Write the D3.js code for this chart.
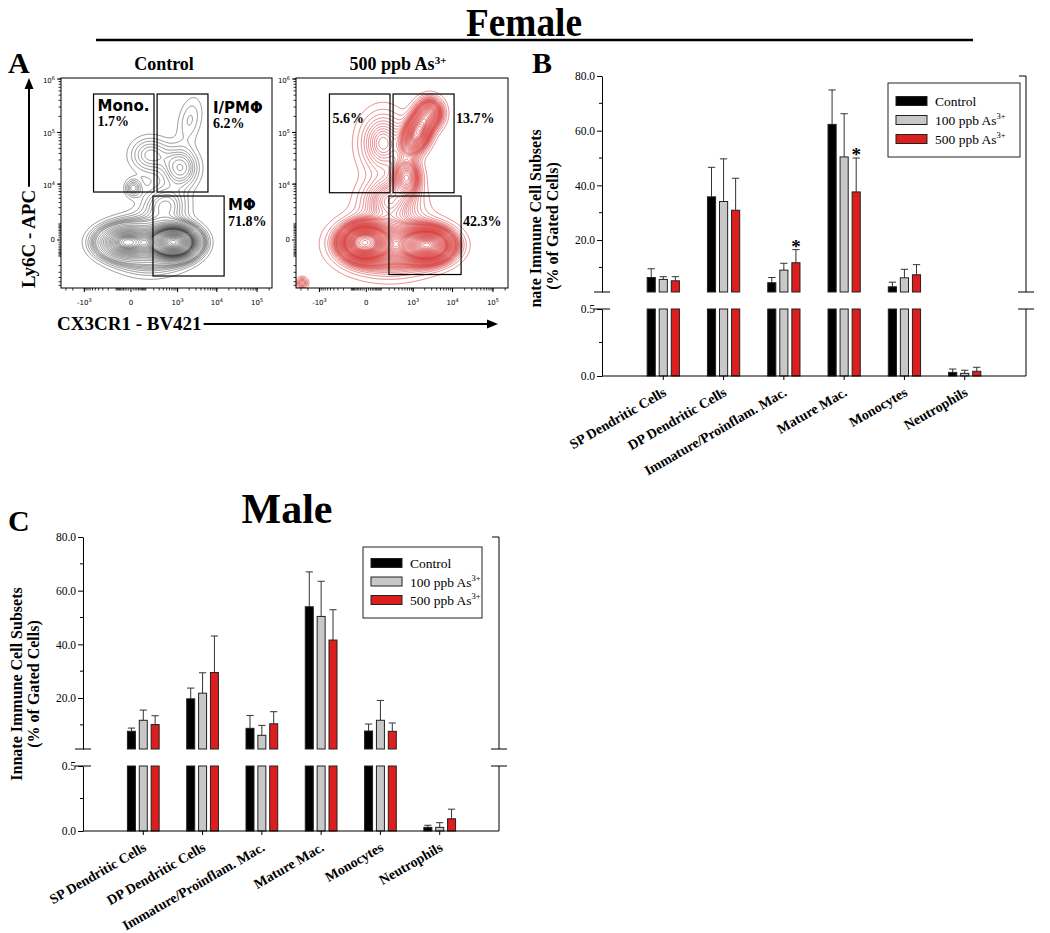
<!DOCTYPE html>
<html><head><meta charset="utf-8">
<script src="https://cdn.jsdelivr.net/npm/d3@7"></script>
<style>body{margin:0;background:#fff}svg{display:block}</style>
</head><body>
<svg id="fig" width="1050" height="933"></svg>
<script>
// ================= DATA =================
const categories = ["SP Dendritic Cells","DP Dendritic Cells","Immature/Proinflam. Mac.","Mature Mac.","Monocytes","Neutrophils"];
const groupNames = ["Control","100 ppb As","500 ppb As"];
const groupSup   = ["","3+","3+"];
// Female (panel B): mean and upper error (SEM) per category
const femaleControl    = [6.3, 35.8, 4.4, 62.3, 2.9, 0.027];
const femaleControlErr = [3.2, 10.8, 1.9, 12.6, 1.7, 0.025];
const female100        = [5.6, 34.1, 9.0, 50.4, 6.2, 0.020];
const female100Err     = [1.0, 15.6, 2.5, 15.8, 3.1, 0.023];
const female500        = [5.1, 30.9, 11.7, 37.6, 7.3, 0.035];
const female500Err     = [1.5, 11.7, 4.8, 12.4, 3.7, 0.030];
const femaleStars      = [[2,2],[3,2]]; // [category index, group index]
// Male (panel C)
const maleControl    = [7.6, 19.7, 8.7, 54.0, 7.7, 0.028];
const maleControlErr = [1.2, 4.0, 4.8, 13.0, 2.6, 0.016];
const male100        = [11.7, 21.8, 6.1, 50.4, 11.7, 0.028];
const male100Err     = [3.8, 7.6, 3.7, 13.1, 7.4, 0.036];
const male500        = [10.1, 29.5, 10.4, 41.6, 7.6, 0.094];
const male500Err     = [3.3, 13.6, 4.5, 11.3, 3.1, 0.074];
const upperTicks = [20, 40, 60, 80];
const upperMinor = [10, 30, 50, 70];
const lowerTicks = [0, 0.5];
const lowerMinor = [0.25];

// Panel A flow plots: populations [CX3CR1, Ly6C, spreadX(decade units), spreadY, event fraction, correlation]
const controlPops = [
  [800, -100, 0.70, 0.36, 0.45, 0],
  [-30, -100, 0.90, 0.40, 0.20, 0],
  [150, -200, 1.30, 0.65, 0.20, 0],
  [1200, 21000, 0.65, 0.55, 0.040, 0],
  [150, 37400, 0.75, 0.50, 0.030, 0],
  [2090, 171000, 0.50, 0.70, 0.014, 0.3],
  [10, 8300, 0.30, 0.25, 0.006, 0],
  [455, 3500, 0.80, 0.50, 0.040, 0]
];
const as500Pops = [
  [-10, -120, 0.70, 0.40, 0.22, 0],
  [2400, -250, 0.80, 0.40, 0.20, 0],
  [200, -200, 1.60, 0.70, 0.22, 0],
  [1300, 100000, 0.50, 0.55, 0.080, 0.4],
  [2700, 232000, 0.45, 0.38, 0.030, 0],
  [680, 13900, 0.45, 0.45, 0.035, 0],
  [120, 63000, 0.85, 0.85, 0.060, 0],
  [213, 4560, 1.00, 0.60, 0.060, 0],
  [-2800, -5335, 0.20, 0.15, 0.002, 0]
];
// gates [x1, x2, y1, y2] in data units
const controlGates = [[-561, 204, 6840, 525000], [258, 6000, 6840, 525000], [188, 15200, -3690, 5600]];
const as500Gates   = [[-534, 213, 6600, 525000], [268, 10900, 6600, 525000], [196, 16300, -3400, 5600]];
const controlGateLabels = [["Mono.","1.7%"],["I/PMΦ","6.2%"],["MΦ","71.8%"]];
const as500GateLabels   = [["5.6%"],["13.7%"],["42.3%"]];
const flowXTicks = [-1000, 0, 1000, 10000, 100000];
const flowXTickExp = ["3", "", "3", "4", "5"];
const flowYTicks = [0, 10000, 100000, 1000000];
const flowYTickExp = ["", "4", "5", "6"];

// ================= DRAWING =================
const svg = d3.select("#fig");
const SERIF = "'Liberation Serif','Times New Roman',Times,serif";
const SANS = "'DejaVu Sans',Verdana,sans-serif";

svg.append("text").attr("x",524).attr("y",36).attr("text-anchor","middle")
  .attr("font-family",SERIF).attr("font-weight","bold").attr("font-size",40)
  .attr("textLength",116).attr("lengthAdjust","spacingAndGlyphs").text("Female");
svg.append("line").attr("x1",96).attr("x2",973).attr("y1",40).attr("y2",40)
  .attr("stroke","#000").attr("stroke-width",2.5);
svg.append("text").attr("x",287).attr("y",523).attr("text-anchor","middle")
  .attr("font-family",SERIF).attr("font-weight","bold").attr("font-size",42).text("Male");
[["A",8,73],["B",532,73],["C",8,531]].forEach(([t,x,y]) =>
  svg.append("text").attr("x",x).attr("y",y).attr("font-family",SERIF)
    .attr("font-weight","bold").attr("font-size",30).text(t));

function supText(sel, base, sup, supSize, dy) {
  sel.append("tspan").text(base);
  if (sup) sel.append("tspan").attr("font-size", supSize).attr("dy", -dy).text(sup);
}

// ---------- Panel A ----------
const flowTop = 78, flowBottom = 288;
const flowXDomain = [-4000, 235000], flowYDomain = [-6850, 1045000];
const tX = v => Math.sign(v) * Math.log1p(Math.abs(v) / 75);
const tY = v => Math.sign(v) * Math.log1p(Math.abs(v) / 1000);

function drawFlow(P) {
  const g = svg.append("g");
  const xs = d3.scaleSymlog().constant(75).domain(flowXDomain).range([P.left, P.right]);
  const ys = d3.scaleSymlog().constant(1000).domain(flowYDomain).range([flowBottom, flowTop]);
  const w = Math.round(P.right - P.left), h = flowBottom - flowTop;
  const colT = d3.range(w).map(i => tX(xs.invert(P.left + i + 0.5)));
  const rowT = d3.range(h).map(j => tY(ys.invert(flowTop + j + 0.5)));
  const comps = P.pops.map(([x, y, sx, sy, m, rho]) => ({
    cx: tX(x), cy: tY(y), sx, sy, rho, k: m / (2 * Math.PI * sx * sy * Math.sqrt(1 - rho * rho))
  }));
  const vals = new Array(w * h);
  for (let j = 0; j < h; j++) for (let i = 0; i < w; i++) {
    let s = 0;
    for (const c of comps) {
      const dx = (colT[i] - c.cx) / c.sx, dy = (rowT[j] - c.cy) / c.sy;
      s += c.k * Math.exp(-(dx*dx - 2*c.rho*dx*dy + dy*dy) / (2 * (1 - c.rho*c.rho)));
    }
    vals[j * w + i] = s;
  }
  const sorted = Float64Array.from(vals).sort();
  const total = d3.sum(sorted);
  const thr = []; let cum = 0, next = P.outlier;
  for (const v of sorted) { cum += v; while (cum / total >= next && next < 0.995) { thr.push(v); next += P.step; } }
  const levels = Array.from(new Set(thr));
  const contours = d3.contours().size([w, h]).thresholds(levels)(vals);
  const clipId = "clip" + P.id;
  svg.append("clipPath").attr("id", clipId).append("rect")
    .attr("x", P.left).attr("y", flowTop).attr("width", w).attr("height", h);
  const path = d3.geoPath(d3.geoTransform({ point(x, y) { this.stream.point(P.left + x, flowTop + y); } }));
  g.append("g").attr("clip-path", `url(#${clipId})`).selectAll("path").data(contours).join("path")
    .attr("d", path).attr("fill", "none").attr("stroke", P.color).attr("stroke-width", P.sw)
    .attr("stroke-opacity", P.op);
  // frame
  g.append("rect").attr("x", P.left).attr("y", flowTop).attr("width", w).attr("height", h)
    .attr("fill", "none").attr("stroke", "#000").attr("stroke-width", 1);
  // ticks
  const minorX = [];
  [10,20,30,40,50,60,70,80,90].forEach(k => { minorX.push(k, -k); });
  [1,2,3,4,5,6,7,8,9].forEach(k => { minorX.push(k*100, -k*100, k*1000, -k*1000, k*10000, k*100000); });
  const minorY = [];
  [1,2,3,4,5,6,7,8,9].forEach(k => { minorY.push(k*100, -k*100, k*1000, -k*1000, k*10000, k*100000, k*1000000); });
  minorX.filter(v => v > flowXDomain[0] && v < flowXDomain[1]).forEach(v =>
    g.append("line").attr("x1", xs(v)).attr("x2", xs(v)).attr("y1", flowBottom).attr("y2", flowBottom + 2.5).attr("stroke", "#000").attr("stroke-width", 0.8));
  minorY.filter(v => v > flowYDomain[0] && v < flowYDomain[1]).forEach(v =>
    g.append("line").attr("y1", ys(v)).attr("y2", ys(v)).attr("x1", P.left).attr("x2", P.left - 2.5).attr("stroke", "#000").attr("stroke-width", 0.8));
  flowXTicks.forEach((v, i) => {
    g.append("line").attr("x1", xs(v)).attr("x2", xs(v)).attr("y1", flowBottom).attr("y2", flowBottom + 4).attr("stroke", "#000");
    const t = g.append("text").attr("x", xs(v)).attr("y", 305).attr("text-anchor", "middle")
      .attr("font-family", SANS).attr("font-size", 7);
    supText(t, v === 0 ? "0" : (v < 0 ? "-10" : "10"), flowXTickExp[i], 5, 3.5);
  });
  flowYTicks.forEach((v, i) => {
    g.append("line").attr("y1", ys(v)).attr("y2", ys(v)).attr("x1", P.left).attr("x2", P.left - 4).attr("stroke", "#000");
    const t = g.append("text").attr("x", P.left - 6).attr("y", ys(v) + (v === 0 ? 2.5 : 4)).attr("text-anchor", "end")
      .attr("font-family", SANS).attr("font-size", 7);
    supText(t, v === 0 ? "0" : "10", flowYTickExp[i], 5, 3.5);
  });
  // gates
  P.gates.forEach(([x1, x2, y1, y2], gi) => {
    const gx1 = xs(x1), gx2 = xs(x2), gy1 = ys(y2), gy2 = ys(y1);
    g.append("rect").attr("x", gx1).attr("y", gy1).attr("width", gx2 - gx1).attr("height", gy2 - gy1)
      .attr("fill", "none").attr("stroke", "#000").attr("stroke-width", 1.2);
    const L = P.labelPos[gi];
    const lx = L.side === "in" ? gx1 + L.dx : gx2 + L.dx;
    P.labels[gi].forEach((s, li) => {
      const isNum = /%$/.test(s);
      g.append("text").attr("x", lx).attr("y", gy1 + L.dy[li])
        .attr("font-family", isNum ? SERIF : SANS).attr("font-weight", "bold")
        .attr("font-size", isNum ? 14 : 15).text(s);
    });
  });
  // title
  const tt = g.append("text").attr("x", P.titleX).attr("y", 70).attr("text-anchor", "middle")
    .attr("font-family", SERIF).attr("font-weight", "bold").attr("font-size", 18);
  supText(tt, P.title, P.titleSup, 11, 6);
}

drawFlow({id: "ctrl", left: 61, right: 272, pops: controlPops, gates: controlGates, labels: controlGateLabels,
  labelPos: [{side: "in", dx: 4, dy: [17, 32]}, {side: "out", dx: 5, dy: [19, 34]}, {side: "out", dx: 4, dy: [14, 30]}],
  color: "#3c3c3c", sw: 0.6, op: 0.9, step: 0.022, outlier: 0.02, title: "Control", titleSup: "", titleX: 164});
drawFlow({id: "as500", left: 296, right: 508, pops: as500Pops, gates: as500Gates, labels: as500GateLabels,
  labelPos: [{side: "in", dx: 3, dy: [29]}, {side: "out", dx: 2, dy: [29]}, {side: "out", dx: 2, dy: [30]}],
  color: "#d63a3a", sw: 0.65, op: 0.95, step: 0.016, outlier: 0.015, title: "500 ppb As", titleSup: "3+", titleX: 398});

// axis titles with arrows
{
  const t = svg.append("text").attr("transform", "translate(35,288) rotate(-90)")
    .attr("font-family", SERIF).attr("font-weight", "bold").attr("font-size", 19).text("Ly6C - APC");
  const L = t.node().getComputedTextLength();
  svg.append("line").attr("x1", 29).attr("x2", 29).attr("y1", 288 - L - 3).attr("y2", 86)
    .attr("stroke", "#000").attr("stroke-width", 2);
  svg.append("path").attr("d", "M29,78 L24.5,89 L33.5,89 Z").attr("fill", "#000");
  const t2 = svg.append("text").attr("x", 57).attr("y", 330)
    .attr("font-family", SERIF).attr("font-weight", "bold").attr("font-size", 19).text("CX3CR1 - BV421");
  const L2 = t2.node().getComputedTextLength();
  svg.append("line").attr("x1", 57 + L2 + 2).attr("x2", 489).attr("y1", 324).attr("y2", 324)
    .attr("stroke", "#000").attr("stroke-width", 2);
  svg.append("path").attr("d", "M498,324 L487,319.5 L487,328.5 Z").attr("fill", "#000");
}

// ---------- Bar panels ----------
const barColors = ["#000000", "#c8c8c8", "#dc1e1e"];

function drawBars(P) {
  const g = svg.append("g");
  const x = d3.scaleLinear().domain([0, 7]).range(P.xRange);
  const step = x(1) - x(0);
  const yU = d3.scaleLinear().domain([1, 80]).range(P.upper);
  const yL = d3.scaleLinear().domain([0, 0.5]).range(P.lower);
  const off = step * 0.2, bw = step * 0.135;
  const line = (x1, y1, x2, y2, sw = 1, col = "#000") =>
    g.append("line").attr("x1", x1).attr("y1", y1).attr("x2", x2).attr("y2", y2)
      .attr("stroke", col).attr("stroke-width", sw);

  // bars + error bars
  P.means.forEach((arr, gi) => arr.forEach((v, ci) => {
    const cx = x(ci + 1) + (gi - 1) * off;
    const e = P.errs[gi][ci];
    const sc = v > 0.5 ? yU : yL;
    line(cx, sc(v), cx, sc(v + e), 1, "#333");
    line(cx - bw * 0.45, sc(v + e), cx + bw * 0.45, sc(v + e), 1, "#333");
    const lowTop = yL(Math.min(v, 0.5));
    g.append("rect").attr("x", cx - bw / 2).attr("y", lowTop).attr("width", bw).attr("height", yL(0) - lowTop)
      .attr("fill", barColors[gi]).attr("stroke", "#222").attr("stroke-width", 1);
    if (v > 0.5) {
      g.append("rect").attr("x", cx - bw / 2).attr("y", yU(v)).attr("width", bw).attr("height", yU(1) - yU(v))
        .attr("fill", barColors[gi]).attr("stroke", "#222").attr("stroke-width", 1);
    }
  }));

  // left axis
  const axU = g.append("g").attr("transform", `translate(${P.axisL},0)`)
    .call(d3.axisLeft(yU).tickValues(upperTicks).tickFormat(d3.format(".1f")).tickSize(5).tickSizeOuter(0));
  const axL = g.append("g").attr("transform", `translate(${P.axisL},0)`)
    .call(d3.axisLeft(yL).tickValues(lowerTicks).tickFormat(d3.format(".1f")).tickSize(5).tickSizeOuter(0));
  [axU, axL].forEach(a => {
    a.selectAll("text").attr("font-family", SERIF).attr("font-size", 11.5).attr("fill", "#000").attr("x", -7);
    a.selectAll("line,path").attr("stroke", "#000");
  });
  upperMinor.forEach(v => line(P.axisL - 3, yU(v), P.axisL, yU(v)));
  lowerMinor.forEach(v => line(P.axisL - 3, yL(v), P.axisL, yL(v)));
  // right axis
  line(P.axisR, yU(80), P.axisR, yU(1));
  line(P.axisR, yL(0.5), P.axisR, yL(0));
  line(P.axisR - 7, yU(80), P.axisR, yU(80));
  // break marks
  [P.axisL, P.axisR].forEach(ax => {
    line(ax - 8, yU(1), ax + 8, yU(1));
    line(ax - 8, yL(0.5), ax + 8, yL(0.5));
  });
  // x axis
  line(P.axisL, yL(0), P.axisR, yL(0));
  categories.forEach((c, i) => {
    line(x(i + 1), yL(0), x(i + 1), yL(0) + 4);
    g.append("text").attr("transform", `translate(${x(i + 1) + 4},${yL(0) + 19}) rotate(-30)`)
      .attr("text-anchor", "end").attr("font-family", SERIF).attr("font-weight", "bold")
      .attr("font-size", 14).text(c);
  });
  // y label
  const cy = (yU(80) + yL(0)) / 2;
  const lg = g.append("g");
  if (P.clipLabel) {
    svg.append("clipPath").attr("id", "ylabclip").append("rect").attr("x", 0).attr("y", 0).attr("width", 1050).attr("height", P.clipLabel);
    lg.attr("clip-path", "url(#ylabclip)");
  }
  lg.append("text").attr("transform", `translate(${P.axisL - 61},${cy}) rotate(-90)`).attr("text-anchor", "middle")
    .attr("font-family", SERIF).attr("font-weight", "bold").attr("font-size", 16).text("Innate Immune Cell Subsets");
  lg.append("text").attr("transform", `translate(${P.axisL - 44},${cy}) rotate(-90)`).attr("text-anchor", "middle")
    .attr("font-family", SERIF).attr("font-weight", "bold").attr("font-size", 16).text("(% of Gated Cells)");
  // legend
  const Lg = P.legend;
  g.append("rect").attr("x", Lg.x).attr("y", Lg.y).attr("width", Lg.w).attr("height", Lg.h)
    .attr("fill", "#fff").attr("stroke", "#222").attr("stroke-width", 1);
  groupNames.forEach((n, i) => {
    const ry = Lg.y + Lg.first + i * Lg.gap;
    g.append("rect").attr("x", Lg.x + 8).attr("y", ry - 4.5).attr("width", 31).attr("height", 9)
      .attr("fill", barColors[i]).attr("stroke", "#222").attr("stroke-width", 1);
    const t = g.append("text").attr("x", Lg.x + 47).attr("y", ry + 5).attr("font-family", SERIF).attr("font-size", 13.5);
    supText(t, n, groupSup[i], 8.5, 6);
  });
  // stars
  (P.stars || []).forEach(([ci, gi]) => {
    const cx = x(ci + 1) + (gi - 1) * off;
    const v = P.means[gi][ci] + P.errs[gi][ci];
    g.append("text").attr("x", cx).attr("y", yU(v) + 3).attr("text-anchor", "middle")
      .attr("font-family", SERIF).attr("font-weight", "bold").attr("font-size", 19).text("*");
  });
}

drawBars({
  xRange: [603, 1025], axisL: 602, axisR: 1026, upper: [292, 76], lower: [376, 309],
  means: [femaleControl, female100, female500], errs: [femaleControlErr, female100Err, female500Err],
  legend: {x: 888, y: 83, w: 132, h: 74, first: 18, gap: 19}, stars: femaleStars, clipLabel: 308
});
drawBars({
  xRange: [84, 499], axisL: 83, axisR: 499, upper: [749, 537], lower: [831, 766],
  means: [maleControl, male100, male500], errs: [maleControlErr, male100Err, male500Err],
  legend: {x: 363, y: 547, w: 119, h: 71, first: 16, gap: 18.5}, stars: []
});
</script>
</body></html>
